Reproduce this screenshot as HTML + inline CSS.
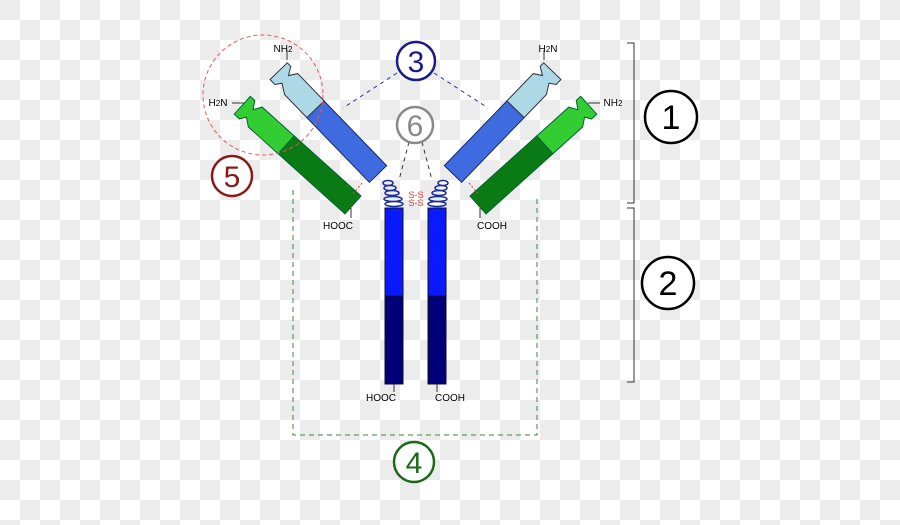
<!DOCTYPE html>
<html><head><meta charset="utf-8"><style>
html,body{margin:0;padding:0}
body{width:900px;height:520px;overflow:hidden;
background-color:#fff;
background-image:linear-gradient(45deg,#ececec 25%,transparent 25%,transparent 75%,#ececec 75%),linear-gradient(45deg,#ececec 25%,transparent 25%,transparent 75%,#ececec 75%);
background-size:40px 40px;background-position:20px 0,0 20px;}
text{font-family:"Liberation Sans",sans-serif}
</style></head><body>
<svg width="900" height="520">
<defs>
<g id="side">
  <g transform="translate(378,174) rotate(226)">
    <rect x="0" y="-12" width="90" height="24" fill="#3f6be0" stroke="#1a2a60" stroke-width="1"/>
    <path d="M90,-12 L122,-12 L132,-6 L136,-12 L143,-12 L143,12 L138,12 L133,4 L128,12 L90,12 Z" fill="#add8e6" stroke="#334" stroke-width="1"/>
  </g>
  <g transform="translate(353,205) rotate(222)">
    <rect x="0" y="-12" width="90" height="24" fill="#0a7a14" stroke="#063" stroke-width="1"/>
    <path d="M90,-12 L130,-12 L138,-6 L142,-12 L149,-12 L149,12 L143,12 L138,4 L133,12 L90,12 Z" fill="#33cc33" stroke="#063" stroke-width="1"/>
  </g>
  <g fill="none" stroke="#1a2a9a" stroke-width="1.5">
    <ellipse cx="388" cy="183" rx="5" ry="2.5"/>
    <ellipse cx="390" cy="188" rx="6" ry="2.5"/>
    <ellipse cx="392" cy="193" rx="7" ry="2.5"/>
    <ellipse cx="393" cy="199" rx="9" ry="2.5"/>
    <ellipse cx="394" cy="204" rx="9" ry="2.5"/>
  </g>
  <rect x="385" y="208" width="18" height="88" fill="#0a1aff" stroke="#112" stroke-width="1"/>
  <rect x="385" y="296" width="18" height="88" fill="#00007a" stroke="#112" stroke-width="1"/>
  <line x1="394" y1="384" x2="394" y2="392" stroke="#333"/>
  <line x1="351" y1="208" x2="351" y2="218" stroke="#333"/>
  <line x1="362" y1="183" x2="352" y2="195" stroke="#e33" stroke-dasharray="2,2"/>
  <line x1="397" y1="73" x2="343" y2="108" stroke="#2a3a9a" stroke-dasharray="4,4"/>
  <line x1="409" y1="142" x2="399" y2="180" stroke="#333" stroke-dasharray="4,4"/>
</g>
</defs>
<use href="#side"/>
<use href="#side" transform="translate(831,0) scale(-1,1)"/>
<line x1="287" y1="50" x2="287" y2="60" stroke="#333"/>
<line x1="232" y1="103" x2="244" y2="103" stroke="#333"/>
<line x1="544" y1="50" x2="544" y2="60" stroke="#333"/>
<line x1="588" y1="103" x2="600" y2="103" stroke="#333"/>
<text x="416" y="198" font-size="9" fill="#e33" text-anchor="middle">S-S</text>
<text x="416" y="206" font-size="9" fill="#e33" text-anchor="middle">S-S</text>
<circle cx="263" cy="95" r="60" fill="none" stroke="#e55" stroke-dasharray="4,3"/>
<path d="M293,190 L293,435 L537,435 L537,196" fill="none" stroke="#3a8a3a" stroke-dasharray="5,4"/>
<path d="M627,43 L634,43 L634,203 L627,203" fill="none" stroke="#333"/>
<path d="M627,208 L634,208 L634,382 L627,382" fill="none" stroke="#333"/>
<g font-size="10" fill="#000">
<text x="283" y="52" text-anchor="middle">NH<tspan font-size="8">2</tspan></text>
<text x="218" y="106" text-anchor="middle">H<tspan font-size="8">2</tspan>N</text>
<text x="338" y="229" text-anchor="middle">HOOC</text>
<text x="492" y="229" text-anchor="middle">COOH</text>
<text x="548" y="52" text-anchor="middle">H<tspan font-size="8">2</tspan>N</text>
<text x="613" y="106" text-anchor="middle">NH<tspan font-size="8">2</tspan></text>
<text x="381" y="401" text-anchor="middle">HOOC</text>
<text x="450" y="401" text-anchor="middle">COOH</text>
</g>
<g><circle cx="416" cy="61" r="19" fill="#fff" stroke="#1a1a8a" stroke-width="2.5"/><text x="416" y="72" font-size="30" fill="#1a1a8a" text-anchor="middle">3</text></g>
<g><circle cx="415" cy="125" r="18" fill="#fff" stroke="#888" stroke-width="2.5"/><text x="415" y="136" font-size="30" fill="#888" text-anchor="middle">6</text></g>
<g><circle cx="232" cy="176" r="20" fill="#fff" stroke="#8a1a1a" stroke-width="2.5"/><text x="232" y="187" font-size="30" fill="#8a1a1a" text-anchor="middle">5</text></g>
<g><circle cx="671" cy="117" r="26" fill="#fff" stroke="#000" stroke-width="2.5"/><text x="671" y="129" font-size="34" fill="#000" text-anchor="middle">1</text></g>
<g><circle cx="668" cy="283" r="26" fill="#fff" stroke="#000" stroke-width="2.5"/><text x="668" y="295" font-size="34" fill="#000" text-anchor="middle">2</text></g>
<g><circle cx="414" cy="462" r="20" fill="#fff" stroke="#1a6a1a" stroke-width="2.5"/><text x="414" y="473" font-size="30" fill="#1a6a1a" text-anchor="middle">4</text></g>
</svg>
</body></html>
